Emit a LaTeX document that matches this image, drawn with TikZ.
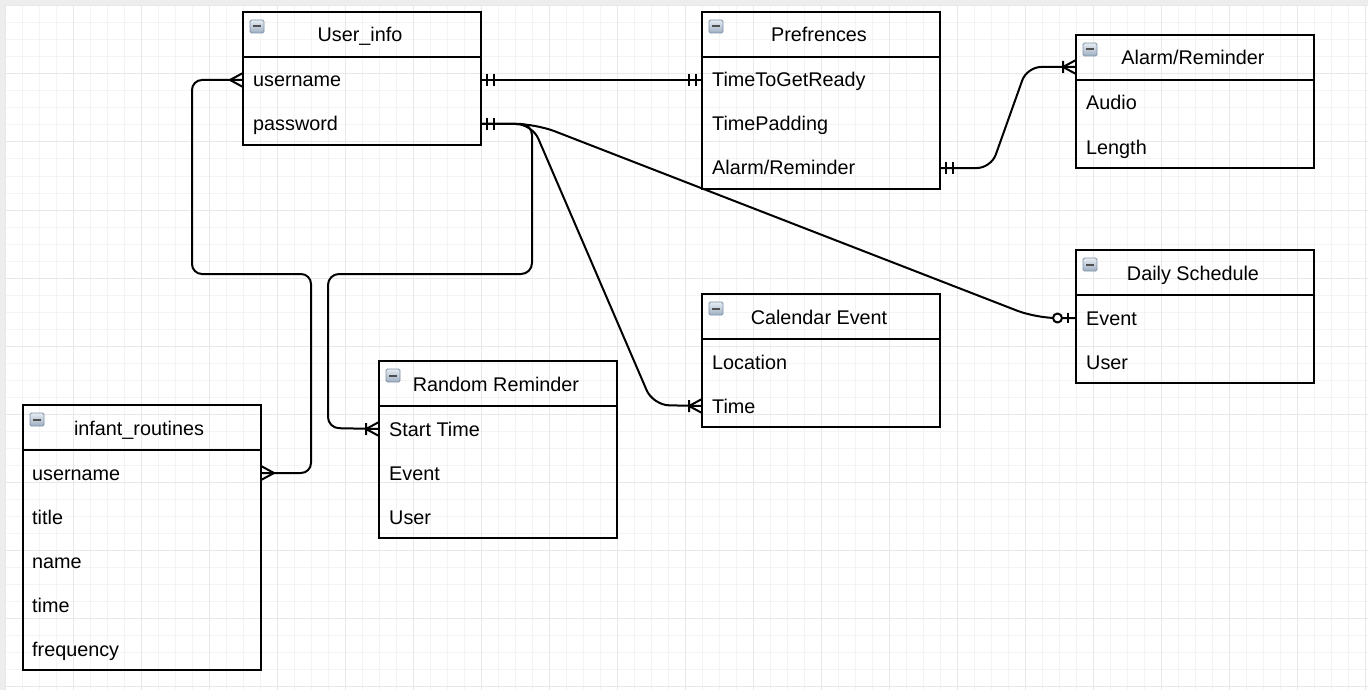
\documentclass[tikz,border=0pt]{standalone}
\usepackage{fontspec}
\setmainfont{Liberation Sans}
\usetikzlibrary{calc}
\definecolor{gridminor}{HTML}{F4F4F4}
\definecolor{gridmajor}{HTML}{E8E8E8}
\definecolor{frameband}{HTML}{EDEDED}
\definecolor{iconborder}{HTML}{7F92A8}
\definecolor{icontop}{HTML}{E6ECF2}
\definecolor{iconbottom}{HTML}{9EAFC2}
\definecolor{iconbar}{HTML}{505050}
\tikzset{
  erbox/.style={draw=black, line width=1.9pt, minimum width=238pt, anchor=north west, inner sep=0pt, outer sep=0pt},
  ertitle/.style={font=\fontsize{19.8}{22}\selectfont, inner sep=0pt, text height=18pt, text depth=4pt},
  erfield/.style={font=\fontsize{19.8}{22}\selectfont, anchor=west, inner sep=0pt, text height=18pt, text depth=4pt},
  conn/.style={line width=2pt, draw=black, line join=round},
  sepline/.style={line width=1.9pt, draw=black},
  onebars/.pic={\draw[conn] (6,-6) -- (6,6) (13,-6) -- (13,6);},
  manyfoot/.pic={\draw[conn] (0,-7) -- (13,0) -- (0,7);},
  onemany/.pic={\draw[conn] (0,-7) -- (13,0) -- (0,7) (13,-6) -- (13,6);},
  zeroone/.pic={\draw[conn] (8,-5) -- (8,5); \draw[conn, fill=white] (18.5,0) circle (4.5);},
  collapseicon/.pic={\draw[iconborder, line width=0.8pt, rounded corners=1.5pt, top color=icontop, bottom color=iconbottom] (0,0) rectangle (14,13); \fill[iconbar] (3,5.5) rectangle (11,7.5);}
}
\begin{document}
\begin{tikzpicture}[x=1pt, y=-1pt]
\useasboundingbox (0,0) rectangle (1368,690);
\fill[white] (0,0) rectangle (1368,690);
\fill[frameband] (0,0) rectangle (1368,5);
\fill[frameband] (0,0) rectangle (5,690);
% grid
\foreach \i in {0,...,80} { \pgfmathsetmacro\gx{5+17*\i} \draw[gridminor, line width=1pt] (\gx,5) -- (\gx,690); }
\foreach \i in {0,...,40} { \pgfmathsetmacro\gy{6+17*\i} \draw[gridminor, line width=1pt] (5,\gy) -- (1368,\gy); }
\foreach \i in {0,...,20} { \pgfmathsetmacro\gx{5+68*\i} \draw[gridmajor, line width=1pt] (\gx,5) -- (\gx,690); }
\foreach \i in {0,...,10} { \pgfmathsetmacro\gy{6+68*\i} \draw[gridmajor, line width=1pt] (5,\gy) -- (1368,\gy); }

% ---------- tables ----------
% User_info
\node[erbox, minimum height=133pt] (ui) at (243,12) {};
\draw[sepline] ([yshift=-45pt]ui.north west) -- ([yshift=-45pt]ui.north east);
\pic at ([xshift=7pt,yshift=-8pt]ui.north west) {collapseicon};
\node[ertitle] (uit) at ([xshift=-2pt,yshift=-23pt]ui.north) {User\_info};
\node[erfield] (ui1) at ([xshift=10pt,yshift=-68pt]ui.north west) {username};
\node[erfield] (ui2) at ([xshift=10pt,yshift=-112pt]ui.north west) {password};

% Prefrences
\node[erbox, minimum height=177pt] (pref) at (702,12) {};
\draw[sepline] ([yshift=-45pt]pref.north west) -- ([yshift=-45pt]pref.north east);
\pic at ([xshift=7pt,yshift=-8pt]pref.north west) {collapseicon};
\node[ertitle] (preft) at ([xshift=-2pt,yshift=-23pt]pref.north) {Prefrences};
\node[erfield] (pref1) at ([xshift=10pt,yshift=-68pt]pref.north west) {TimeToGetReady};
\node[erfield] (pref2) at ([xshift=10pt,yshift=-112pt]pref.north west) {TimePadding};
\node[erfield] (pref3) at ([xshift=10pt,yshift=-156pt]pref.north west) {Alarm/Reminder};

% Alarm/Reminder
\node[erbox, minimum height=133pt] (alarm) at (1076,35) {};
\draw[sepline] ([yshift=-45pt]alarm.north west) -- ([yshift=-45pt]alarm.north east);
\pic at ([xshift=7pt,yshift=-8pt]alarm.north west) {collapseicon};
\node[ertitle] (alarmt) at ([xshift=-2pt,yshift=-23pt]alarm.north) {Alarm/Reminder};
\node[erfield] (alarm1) at ([xshift=10pt,yshift=-68pt]alarm.north west) {Audio};
\node[erfield] (alarm2) at ([xshift=10pt,yshift=-112pt]alarm.north west) {Length};
\coordinate (alarmhook) at ([yshift=-32pt]alarm.north west);

% Daily Schedule
\node[erbox, minimum height=133pt] (daily) at (1076,250) {};
\draw[sepline] ([yshift=-45pt]daily.north west) -- ([yshift=-45pt]daily.north east);
\pic at ([xshift=7pt,yshift=-8pt]daily.north west) {collapseicon};
\node[ertitle] (dailyt) at ([xshift=-2pt,yshift=-23pt]daily.north) {Daily Schedule};
\node[erfield] (daily1) at ([xshift=10pt,yshift=-68pt]daily.north west) {Event};
\node[erfield] (daily2) at ([xshift=10pt,yshift=-112pt]daily.north west) {User};

% Calendar Event
\node[erbox, minimum height=133pt] (cal) at (702,294) {};
\draw[sepline] ([yshift=-45pt]cal.north west) -- ([yshift=-45pt]cal.north east);
\pic at ([xshift=7pt,yshift=-8pt]cal.north west) {collapseicon};
\node[ertitle] (calt) at ([xshift=-2pt,yshift=-23pt]cal.north) {Calendar Event};
\node[erfield] (cal1) at ([xshift=10pt,yshift=-68pt]cal.north west) {Location};
\node[erfield] (cal2) at ([xshift=10pt,yshift=-112pt]cal.north west) {Time};

% Random Reminder
\node[erbox, minimum height=177pt] (rr) at (379,361) {};
\draw[sepline] ([yshift=-45pt]rr.north west) -- ([yshift=-45pt]rr.north east);
\pic at ([xshift=7pt,yshift=-8pt]rr.north west) {collapseicon};
\node[ertitle] (rrt) at ([xshift=-2pt,yshift=-23pt]rr.north) {Random Reminder};
\node[erfield] (rr1) at ([xshift=10pt,yshift=-68pt]rr.north west) {Start Time};
\node[erfield] (rr2) at ([xshift=10pt,yshift=-112pt]rr.north west) {Event};
\node[erfield] (rr3) at ([xshift=10pt,yshift=-156pt]rr.north west) {User};

% infant_routines
\node[erbox, minimum height=265pt] (inf) at (23,405) {};
\draw[sepline] ([yshift=-45pt]inf.north west) -- ([yshift=-45pt]inf.north east);
\pic at ([xshift=7pt,yshift=-8pt]inf.north west) {collapseicon};
\node[ertitle] (inft) at ([xshift=-3pt,yshift=-23pt]inf.north) {infant\_routines};
\node[erfield] (inf1) at ([xshift=9pt,yshift=-68pt]inf.north west) {username};
\node[erfield] (inf2) at ([xshift=9pt,yshift=-112pt]inf.north west) {title};
\node[erfield] (inf3) at ([xshift=9pt,yshift=-156pt]inf.north west) {name};
\node[erfield] (inf4) at ([xshift=9pt,yshift=-200pt]inf.north west) {time};
\node[erfield] (inf5) at ([xshift=9pt,yshift=-244pt]inf.north west) {frequency};

% ---------- connectors ----------
% username -> infant_routines.username
\draw[conn, rounded corners=10pt] (ui.west |- ui1) -- (192,80) -- (192,274) -- (311,274) -- (311,473) -- (inf.east |- inf1);
\pic[rotate=180] at (ui.west |- ui1) {manyfoot};
\pic at (inf.east |- inf1) {manyfoot};

% username -> TimeToGetReady
\draw[conn] (ui.east |- ui1) -- (pref.west |- pref1);
\pic at (ui.east |- ui1) {onebars};
\pic[rotate=180] at (pref.west |- pref1) {onebars};

% password -> Random Reminder
\draw[conn, rounded corners=11pt] (ui.east |- ui2) -- (532,124) -- (532,274) -- (328,274) -- (328,428) -- (rr.west |- rr1);
\pic[rotate=180] at (rr.west |- rr1) {onemany};

% password -> Calendar Event Time
\draw[conn, rounded corners=16pt] (ui.east |- ui2) -- (532,124) -- (653,405) -- (cal.west |- cal2);
\pic[rotate=180] at (cal.west |- cal2) {onemany};

% password -> Daily Schedule Event
\draw[conn, rounded corners=20pt] (ui.east |- ui2) -- (536,124) -- (1036,318) -- (daily.west |- daily1);
\pic[rotate=180] at (daily.west |- daily1) {zeroone};
\pic at (ui.east |- ui2) {onebars};

% Prefrences.Alarm/Reminder -> Alarm/Reminder
\draw[conn, rounded corners=14pt] (pref.east |- pref3) -- (991,168) -- (1027,67) -- (alarmhook);
\pic at (pref.east |- pref3) {onebars};
\pic[rotate=180] at (alarmhook) {onemany};
\end{tikzpicture}
\end{document}
